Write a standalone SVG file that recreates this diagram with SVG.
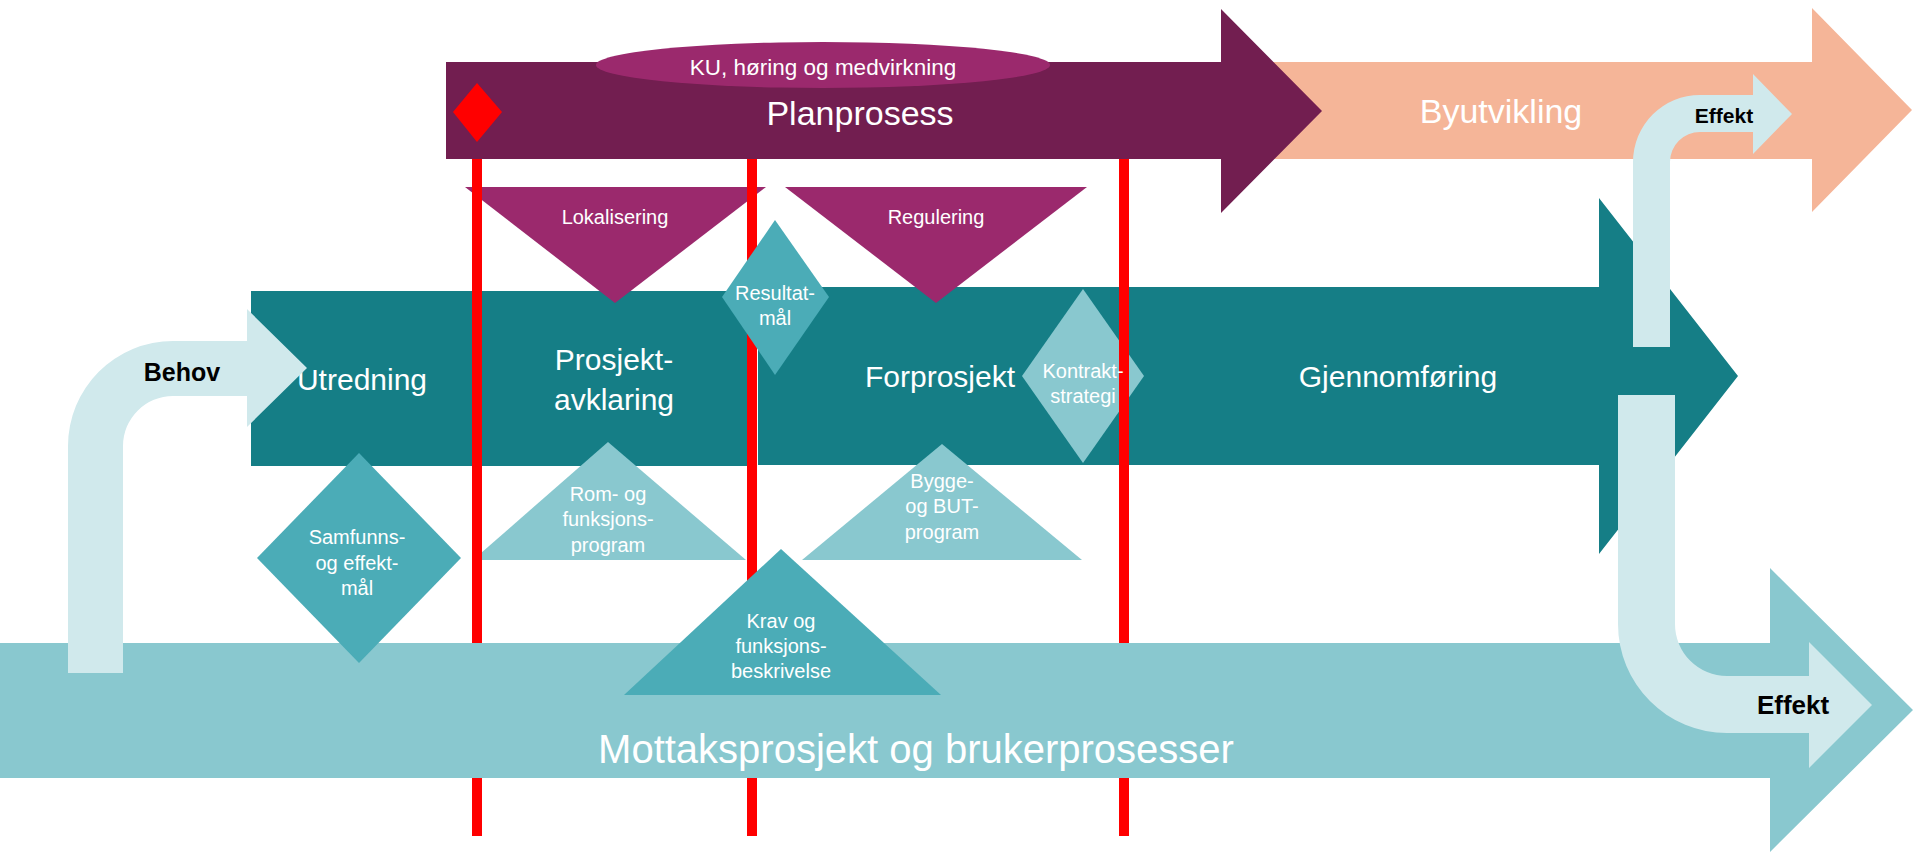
<svg xmlns="http://www.w3.org/2000/svg" width="1913" height="852" viewBox="0 0 1913 852">
<style>
text{font-family:"Liberation Sans",Arial,sans-serif;fill:#fff;text-anchor:middle}
.s20{font-size:20px}
.s30{font-size:30px}
.blk{fill:#000;font-weight:bold}
.dteal{fill:#157E86}
.mteal{fill:#4BACB7}
.lteal{fill:#89C8CF}
.pale{fill:#D0E9EC}
.mag{fill:#9B296D}
.red{stroke:#FF0000;stroke-width:10;fill:none}
</style>
<rect width="1913" height="852" fill="#fff"/>
<g id="byutvikling">
<polygon points="1136,62 1812,62 1812,8 1912,110 1812,212 1812,159 1136,159" fill="#F5B598"/>
<text x="1501" y="123" style="font-size:34px">Byutvikling</text>
</g>
<g id="planprosess">
<polygon points="446,62 1221,62 1221,9 1322,111 1221,213 1221,159 446,159" fill="#721E50"/>
<text x="860" y="125" style="font-size:34px">Planprosess</text>
</g>
<g id="ku">
<ellipse cx="823" cy="65" rx="227" ry="23" class="mag"/>
<text x="823" y="75" style="font-size:22.5px">KU, høring og medvirkning</text>
</g>
<g id="milepael">
<polygon points="477,83 502,112 477,142 453,112" fill="#FF0000"/>
</g>
<g id="utredning">
<rect x="251" y="291" width="501" height="175" class="dteal"/>
<text x="362" y="390" class="s30">Utredning</text>
<text x="614" y="370" class="s30">Prosjekt-</text>
<text x="614" y="410" class="s30">avklaring</text>
</g>
<g id="forprosjekt">
<polygon points="758,287 1599,287 1599,198 1738,376 1599,554 1599,465 758,465" class="dteal"/>
<text x="940" y="387" class="s30">Forprosjekt</text>
<text x="1398" y="387" class="s30">Gjennomføring</text>
</g>
<g id="lokalisering">
<polygon points="465,187 766,187 615,303" class="mag"/>
<text x="615" y="224" class="s20">Lokalisering</text>
</g>
<g id="regulering">
<polygon points="785,187 1087,187 936,303" class="mag"/>
<text x="936" y="224" class="s20">Regulering</text>
</g>
<g id="romprogram">
<polygon points="608,442 746,560 473,560" class="lteal"/>
<text x="608" y="501" class="s20">Rom- og</text>
<text x="608" y="526" class="s20">funksjons-</text>
<text x="608" y="552" class="s20">program</text>
</g>
<g id="byggeprogram">
<polygon points="942,444 1082,560 802,560" class="lteal"/>
<text x="942" y="488" class="s20">Bygge-</text>
<text x="942" y="513" class="s20">og BUT-</text>
<text x="942" y="539" class="s20">program</text>
</g>
<g id="kontraktstrategi">
<polygon points="1083,289 1144,376 1083,463 1022,376" class="lteal"/>
</g>
<g id="connectors">
<line x1="477" y1="159" x2="477" y2="836" class="red"/>
<line x1="752" y1="159" x2="752" y2="836" class="red"/>
<line x1="1124" y1="159" x2="1124" y2="836" class="red"/>
</g>
<g id="kontraktstrategi-label">
<text x="1083" y="378" class="s20">Kontrakt-</text>
<text x="1083" y="403" class="s20">strategi</text>
</g>
<g id="resultatmaal">
<polygon points="775,220 829,297 775,375 722,297" class="mteal"/>
<text x="775" y="300" class="s20">Resultat-</text>
<text x="775" y="325" class="s20">mål</text>
</g>
<g id="mottaksprosjekt">
<polygon points="0,643 1770,643 1770,568 1913,710 1770,852 1770,778 0,778" class="lteal"/>
<text x="916" y="763" style="font-size:40px">Mottaksprosjekt og brukerprosesser</text>
</g>
<g id="samfunnsmaal">
<polygon points="359,453 461,558 359,663 257,558" class="mteal"/>
<text x="357" y="544" class="s20">Samfunns-</text>
<text x="357" y="570" class="s20">og effekt-</text>
<text x="357" y="595" class="s20">mål</text>
</g>
<g id="kravbeskrivelse">
<polygon points="781,549 941,695 624,695" class="mteal"/>
<text x="781" y="628" class="s20">Krav og</text>
<text x="781" y="653" class="s20">funksjons-</text>
<text x="781" y="678" class="s20">beskrivelse</text>
</g>
<g id="effekt-by">
<path d="M1633,347 L1633,162 A67,67 0 0 1 1700,95 L1753,95 L1753,74 L1792,114 L1753,154 L1753,132 L1700,132 A30,30 0 0 0 1670,162 L1670,347 Z" class="pale"/>
<text x="1724" y="123" class="blk" style="font-size:21px">Effekt</text>
</g>
<g id="effekt-bruker">
<path d="M1618,395 L1675,395 L1675,624 A52,52 0 0 0 1727,676 L1809,676 L1809,642 L1872,705 L1809,768 L1809,733 L1727,733 A109,109 0 0 1 1618,624 Z" class="pale"/>
<text x="1793" y="714" class="blk" style="font-size:26px">Effekt</text>
</g>
<g id="behov">
<path d="M68,673 L68,446 A105,105 0 0 1 173,341 L247,341 L247,309 L307,368 L247,427 L247,396 L173,396 A50,50 0 0 0 123,446 L123,673 Z" class="pale"/>
<text x="182" y="381" class="blk" style="font-size:25px">Behov</text>
</g>
</svg>
